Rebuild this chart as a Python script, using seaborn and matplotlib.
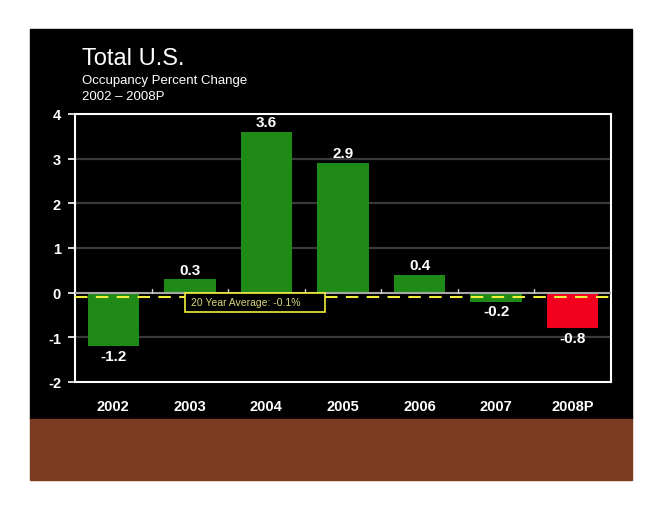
import matplotlib
matplotlib.use("Agg")
import matplotlib.pyplot as plt
import matplotlib.patches as mpatches
import seaborn as sns
import pandas as pd

years = ["2002", "2003", "2004", "2005", "2006", "2007", "2008P"]
change = [-1.2, 0.3, 3.6, 2.9, 0.4, -0.2, -0.8]
kind = ["Actual", "Actual", "Actual", "Actual", "Actual", "Actual", "Projected"]
avg_20yr = -0.1
y_ticks = [-2, -1, 0, 1, 2, 3, 4]

df = pd.DataFrame({"Year": years, "Change": change, "Kind": kind})

sns.set_theme(style="dark")
plt.rcParams["font.family"] = ["Liberation Sans", "DejaVu Sans"]
plt.rcParams["axes.unicode_minus"] = False

fig = plt.figure(figsize=(6.6, 5.1), dpi=100, facecolor="white")
W, H = 660, 510

# slide background: black panel + brown footer band
fig.patches.append(mpatches.Rectangle((30 / W, 1 - 420 / H), 602 / W, 390 / H,
                                      transform=fig.transFigure, color="black", zorder=-5))
fig.patches.append(mpatches.Rectangle((30 / W, 1 - 481 / H), 602 / W, 61 / H,
                                      transform=fig.transFigure, color="#7a3b20", zorder=-5))

ax = fig.add_axes([75 / W, 1 - 383 / H, 536 / W, 268 / H])
ax.set_zorder(5)
ax.set_facecolor("black")

sns.barplot(data=df, x="Year", y="Change", hue="Kind",
            palette={"Actual": "#1f8a16", "Projected": "#f2001e"},
            dodge=False, width=0.67, saturation=1, legend=False, ax=ax,
            edgecolor="none", linewidth=0, zorder=3)

ax.set_ylim(-2, 4)
ax.set_xlim(-0.5, len(years) - 0.5)
ax.set_yticks(y_ticks)
ax.set_xlabel("")
ax.set_ylabel("")

for y in y_ticks[1:-1]:
    if y != 0:
        ax.axhline(y, color="#3a3a3a", lw=1.6, zorder=1)
ax.axhline(0, color="#a8a8a8", lw=1.5, zorder=4)
for i in range(len(years) - 1):
    ax.plot([i + 0.5, i + 0.5], [0, 0.08], color="#d0d0d0", lw=1, zorder=4)

ax.axhline(avg_20yr, color="#f0f03c", lw=1.5, ls=(0, (6, 4)), zorder=5)

# average callout box
ax.add_patch(mpatches.Rectangle((0.94, -0.43), 1.83, 0.43, fc="black", ec="#f0f03c",
                                lw=1.2, zorder=6))
ax.text(1.01, -0.21, "20 Year Average: -0.1%", color="#d8d87a", fontsize=7.5,
        ha="left", va="center", zorder=7)

for i, v in enumerate(change):
    if v >= 0:
        ax.text(i, v + 0.06, f"{v:.1f}", color="white", fontsize=11,
                fontweight="bold", ha="center", va="bottom", zorder=6)
    else:
        ax.text(i, v - 0.06, f"{v:.1f}", color="white", fontsize=11,
                fontweight="bold", ha="center", va="top", zorder=6)

for s in ax.spines.values():
    s.set_color("white")
    s.set_linewidth(1.5)
ax.tick_params(axis="y", colors="white", labelsize=10.5, length=5, width=1.2,
               direction="out", left=True, pad=5)
ax.tick_params(axis="x", colors="white", labelsize=10.5, length=0, pad=12)
for lbl in ax.get_xticklabels() + ax.get_yticklabels():
    lbl.set_fontweight("bold")
ax.grid(False)

fig.text(82 / W, 1 - 65 / H, "Total U.S.", color="white", fontsize=17, ha="left", va="baseline")
fig.text(82 / W, 1 - 84 / H, "Occupancy Percent Change", color="white", fontsize=9.5, ha="left", va="baseline")
fig.text(82 / W, 1 - 100 / H, "2002 \u2013 2008P", color="white", fontsize=9.5, ha="left", va="baseline")

fig.savefig("out.png", dpi=100, facecolor="white")
